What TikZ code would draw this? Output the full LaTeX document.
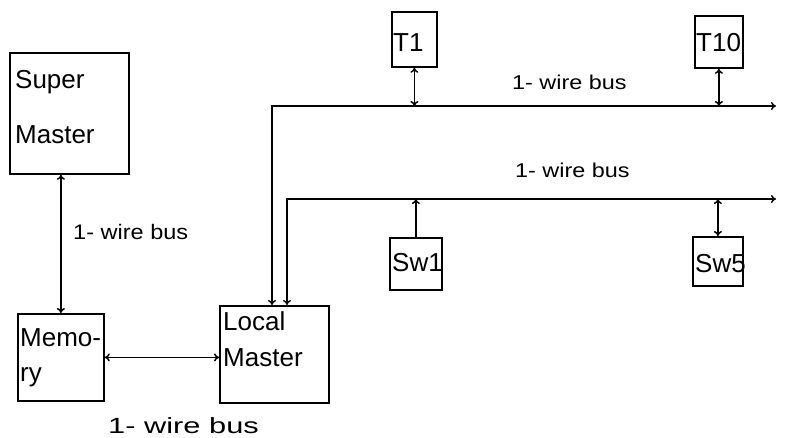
\documentclass[tikz,border=0pt]{standalone}
\usepackage{fontspec}
\setmainfont{Liberation Sans}
\usepackage{graphicx}
\usetikzlibrary{arrows.meta}
\begin{document}
\begin{tikzpicture}[x=1pt,y=-1pt,
  box/.style={draw, line width=1.8pt, inner sep=0pt, anchor=north west},
  txt/.style={anchor=base west, inner sep=0pt, font=\fontsize{26}{26}\selectfont},
  buslbl/.style={anchor=base west, inner sep=0pt, font=\fontsize{20}{20}\selectfont},
  wire/.style={line width=1.5pt},
  both/.style={wire, {To[length=5pt,width=8pt]}-{To[length=5pt,width=8pt]}},
  one/.style={wire, -{To[length=5pt,width=8pt]}}]
\useasboundingbox (0,0) rectangle (792,437);

% boxes
\node[box, minimum width=119pt, minimum height=121pt] (super) at (9,52) {};
\node[box, minimum width=86pt, minimum height=87pt] (mem) at (17,313) {};
\node[box, minimum width=109pt, minimum height=97pt] (local) at (219,305) {};
\node[box, minimum width=45pt, minimum height=55pt] (t1) at (391,11) {};
\node[box, minimum width=48pt, minimum height=52pt] (t10) at (694,15) {};
\node[box, minimum width=52pt, minimum height=52pt] (sw1) at (389,237) {};
\node[box, minimum width=50pt, minimum height=49pt] (sw5) at (692,236) {};

% box texts
\node[txt] (tsuper) at (15,88) {Super};
\node[txt] (tsmaster) at (15,143) {Master};
\node[txt] (tmemo) at (20,346) {Memo-};
\node[txt] (try) at (20,381) {ry};
\node[txt] (tlocal) at (223,330) {Local};
\node[txt] (tlmaster) at (223,366) {Master};
\node[txt] (tt1) at (393,51) {T1};
\node[txt] (tt10) at (696,51) {T10};
\node[txt] (tsw1) at (392,271) {Sw1};
\node[txt] (tsw5) at (695,272) {Sw5};

% bus labels
\node[buslbl] (l1) at (512,89) {\scalebox{1.17}[1]{1- wire bus}};
\node[buslbl] (l2) at (515,177) {\scalebox{1.17}[1]{1- wire bus}};
\node[buslbl, font=\fontsize{21}{21}\selectfont] (l3) at (73,239) {\scalebox{1.12}[1]{1- wire bus}};
\node[buslbl, font=\fontsize{22}{22}\selectfont] (l4) at (108,433) {\scalebox{1.4}[1]{1- wire bus}};

% bus corner coordinates
\coordinate (b1w) at (272,106);
\coordinate (b1e) at (776,106);
\coordinate (b2w) at (287,199);
\coordinate (b2e) at (776,199);

% connectors
\draw[both] (super.south -| mem.north) -- (mem.north);
\draw[both] (mem.east) -- (mem.east -| local.west);
\draw[both] (local.north -| b1w) -- (b1w) -- (b1e);
\draw[both] (local.north -| b2w) -- (b2w) -- (b2e);
\draw[both] (t1.south) -- (t1.south |- b1w);
\draw[both] (t10.south) -- (t10.south |- b1w);
\draw[one] (sw1.north) -- (sw1.north |- b2w);
\draw[both] (sw5.north) -- (sw5.north |- b2w);
\end{tikzpicture}
\end{document}
